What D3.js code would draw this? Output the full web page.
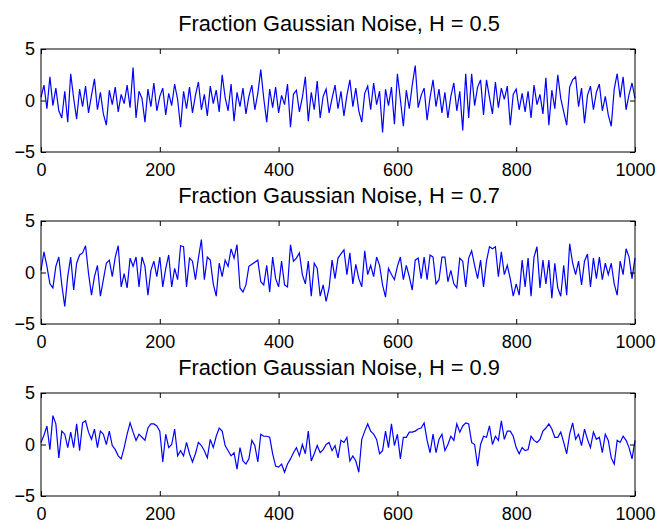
<!DOCTYPE html>
<html>
<head>
<meta charset="utf-8">
<script src="https://cdn.jsdelivr.net/npm/d3@7"></script>
<style>
  html, body { margin: 0; padding: 0; background: #fff; }
  svg { display: block; }
  text { font-family: "Liberation Sans", Arial, sans-serif; fill: #000; }
</style>
</head>
<body>
<div id="chart"></div>
<script>
// samples every 5 steps (0..1000)
const step = 5;
const titles = ["Fraction Gaussian Noise, H = 0.5", "Fraction Gaussian Noise, H = 0.7", "Fraction Gaussian Noise, H = 0.9"];
const xTicks = [0, 200, 400, 600, 800, 1000];
const yTicks = [-5, 0, 5];

const fgn05 = [
  0.3,1.5,-0.8,2.3,-0.5,1.2,-1.0,-1.7,0.9,-2.1,2.6,0.2,-1.8,1.1,-0.6,1.4,-1.2,0.5,2.1,-0.9,
  0.8,-1.3,-2.4,1.0,-0.4,1.3,-1.1,0.6,-0.3,1.5,-0.7,3.2,-1.7,0.9,0.2,-2.1,1.1,-0.6,1.7,-1.0,
  0.4,1.2,-1.4,0.7,-0.5,1.6,0.1,-2.6,0.9,-0.8,1.3,-1.2,0.5,1.8,-0.9,0.6,-1.5,1.4,-0.3,1.0,
  -1.1,2.5,0.3,-1.0,1.6,-2.0,0.8,-0.6,1.2,-1.3,0.4,1.5,-0.9,0.7,3.0,0.2,-2.1,1.1,-0.7,1.3,
  -1.2,0.5,-0.4,1.6,-2.6,0.6,1.0,-1.1,0.3,2.3,-2.0,0.8,-0.9,1.9,-1.7,0.4,1.1,-1.2,0.2,1.5,
  -0.8,0.9,-1.5,0.5,2.0,-0.6,1.2,-1.0,-2.1,0.7,1.4,-0.9,1.7,-0.4,0.9,-3.1,1.1,-0.5,1.3,-2.3,
  2.6,0.1,-2.5,1.0,-0.8,1.5,3.4,-0.7,0.5,1.2,-1.9,0.3,2.0,-0.6,1.1,-1.2,0.8,-1.7,0.4,1.7,
  -1.0,0.9,-2.9,2.6,-1.7,2.6,-0.5,1.3,2.0,-1.4,2.0,0.3,-1.3,1.8,-0.7,1.2,0.1,1.4,-2.4,0.6,
  1.1,-0.9,0.7,-1.1,0.9,-1.7,1.5,-0.4,0.6,-1.3,2.2,-2.4,1.0,-0.8,2.5,0.2,-1.1,-2.4,1.3,2.0,
  2.3,-0.6,1.2,-2.2,0.5,1.4,-0.9,0.8,1.6,-1.0,0.4,-1.4,-2.5,1.1,2.6,0.3,2.3,-0.9,0.6,1.7,
  0.2
];

const fgn07 = [
  0.2,2.0,0.6,-1.1,-1.5,0.6,1.5,-1.2,-3.3,-0.4,1.5,-1.7,0.9,1.7,1.9,2.6,-0.1,-2.2,-0.4,0.7,
  -2.3,-0.7,0.9,1.2,-0.4,1.5,2.6,-1.4,-0.1,-1.5,1.4,0.6,1.5,-1.4,1.5,0.6,-2.2,0.2,1.1,-0.4,
  1.5,-1.4,0.4,1.7,-1.4,0.4,-0.7,2.6,2.5,-1.4,1.4,1.1,-0.7,1.4,3.2,-0.7,1.5,1.2,-1.1,-2.3,
  0.9,-0.4,1.2,0.6,2.3,1.4,2.7,-1.5,-1.9,-1.2,0.6,0.8,1.0,1.2,-0.9,-1.2,0.7,-1.9,1.5,-0.6,
  -1.4,1.1,-1.2,-1.4,2.7,1.1,1.4,1.9,-0.2,-1.1,1.1,-2.3,0.9,0.4,-2.3,-1.2,-2.8,-1.5,1.2,-0.6,
  1.4,1.8,2.2,-0.2,1.9,-1.1,0.8,-0.6,-1.4,2.1,-0.2,0.7,-0.4,1.5,0.7,-1.2,-2.4,0.4,-0.2,-0.7,
  0.6,1.5,-0.7,0.7,-0.4,-1.7,1.2,1.4,-0.6,1.5,-0.7,1.7,1.5,-1.1,-0.7,1.5,1.5,-0.9,0.2,-1.1,
  -1.5,1.4,1.1,-1.4,1.4,2.1,0.7,-0.6,1.2,-1.4,1.1,2.5,2.3,2.5,-0.4,2.0,-0.2,0.7,-0.6,-2.3,
  -1.1,-2.2,1.2,-1.4,1.4,-2.3,1.5,2.5,-1.5,1.2,-1.1,1.2,-2.5,0.9,-1.5,-2.3,0.7,-2.2,2.8,0.9,
  -0.2,1.1,-1.2,1.1,1.8,-1.4,1.4,-0.6,1.5,-0.7,0.9,-0.2,0.9,-1.1,-2.2,1.1,-0.2,2.3,1.5,-0.6,
  1.4
];

const fgn09 = [
  0.2,0.9,1.8,-0.5,2.8,2.0,-1.3,1.3,1.0,-0.3,1.2,-0.3,2.0,-0.6,2.1,2.3,1.2,0.5,1.5,-0.3,
  1.3,1.0,0.0,1.3,-0.1,-0.5,-1.1,-1.4,-0.3,1.0,2.1,1.2,0.4,1.0,0.7,0.4,1.6,2.0,2.0,1.8,
  1.3,-1.7,1.0,-0.3,0.0,1.5,-1.1,-0.6,-1.1,0.2,-0.9,-1.7,-0.9,0.2,-0.1,-0.6,-1.3,0.5,-0.3,0.8,
  1.6,1.3,-0.1,-0.6,-1.1,-0.8,-2.4,-0.3,-1.6,-1.9,-1.4,0.4,-0.1,-1.7,1.0,0.8,0.8,0.7,-0.9,-2.1,
  -2.2,-1.9,-2.7,-1.9,-1.4,-0.8,-0.3,-1.1,0.0,-0.9,1.3,-1.6,-0.9,-0.1,-0.8,-0.5,0.0,0.2,-0.6,-0.1,
  -1.3,0.4,0.2,0.7,-1.6,-1.1,-1.6,-2.7,0.5,1.3,2.0,1.3,1.0,0.5,-0.9,-0.6,1.3,-0.3,2.0,-0.1,
  1.0,-1.4,0.7,0.7,1.2,1.2,1.3,1.5,1.6,2.1,0.4,-0.8,1.0,-0.8,0.5,1.0,-0.6,0.0,0.8,0.4,
  2.0,1.2,1.8,2.1,2.0,0.2,0.0,-2.1,0.0,0.8,0.7,1.8,0.0,0.8,0.4,2.3,0.5,1.3,1.3,0.8,
  -0.3,-0.9,-0.3,-0.6,-0.5,0.8,0.4,0.2,0.5,1.3,1.6,2.0,1.5,0.7,0.7,1.2,0.2,-0.9,1.0,2.1,
  0.5,1.0,-0.1,1.5,0.5,-0.3,1.2,0.5,0.7,-0.8,1.0,0.4,-1.3,-1.9,0.4,0.2,0.8,0.4,-0.3,-1.4,
  0.4
];

const series = [fgn05, fgn07, fgn09];

const w = 660;
const h = 523;
const left = 41, right = 635;
const tops = [49, 221, 393];
const plotH = 103;
const tickLen = 5;

const svg = d3.select("#chart")
  .append("svg")
  .attr("width", w)
  .attr("height", h);

const x = d3.scaleLinear().domain([0, 1000]).range([left, right]);
const fmt = v => v < 0 ? "\u2212" + Math.abs(v) : String(v);

series.forEach((vals, k) => {
  const top = tops[k];
  const y = d3.scaleLinear().domain([-5, 5]).range([top + plotH, top]);
  const g = svg.append("g").attr("class", "panel");

  // title
  g.append("text")
    .attr("x", (left + right) / 2 + 1)
    .attr("y", top - 18)
    .attr("text-anchor", "middle")
    .style("font-size", "21.8px")
    .text(titles[k]);

  // data line
  const line = d3.line()
    .x((d, i) => x(i * step))
    .y(d => y(d));

  g.append("path")
    .datum(vals)
    .attr("fill", "none")
    .attr("stroke", "#0000ff")
    .attr("stroke-width", 1.2)
    .attr("stroke-linejoin", "miter")
    .attr("d", line);

  // axes: ticks inside, on all four sides
  const xb = g.append("g")
    .attr("transform", `translate(0,${top + plotH})`)
    .call(d3.axisBottom(x).tickValues(xTicks).tickSizeInner(-tickLen).tickSizeOuter(0).tickPadding(10).tickFormat(fmt));
  const xt = g.append("g")
    .attr("transform", `translate(0,${top})`)
    .call(d3.axisTop(x).tickValues(xTicks).tickSizeInner(-tickLen).tickSizeOuter(0).tickFormat(""));
  const yl = g.append("g")
    .attr("transform", `translate(${left},0)`)
    .call(d3.axisLeft(y).tickValues(yTicks).tickSizeInner(-tickLen).tickSizeOuter(0).tickPadding(6).tickFormat(fmt));
  const yr = g.append("g")
    .attr("transform", `translate(${right},0)`)
    .call(d3.axisRight(y).tickValues(yTicks).tickSizeInner(-tickLen).tickSizeOuter(0).tickFormat(""));

  [xb, xt, yl, yr].forEach(a => {
    a.select(".domain").remove();
    a.selectAll("line").attr("stroke", "#000");
    a.selectAll("text")
      .style("font-family", '"Liberation Sans", Arial, sans-serif')
      .style("font-size", "18px")
      .attr("fill", "#000");
  });
  xb.selectAll("text").attr("dy", "0.71em").attr("y", 11);

  // frame
  g.append("rect")
    .attr("x", left)
    .attr("y", top)
    .attr("width", right - left)
    .attr("height", plotH)
    .attr("fill", "none")
    .attr("stroke", "#000")
    .attr("stroke-width", 1);
});
</script>
</body>
</html>
